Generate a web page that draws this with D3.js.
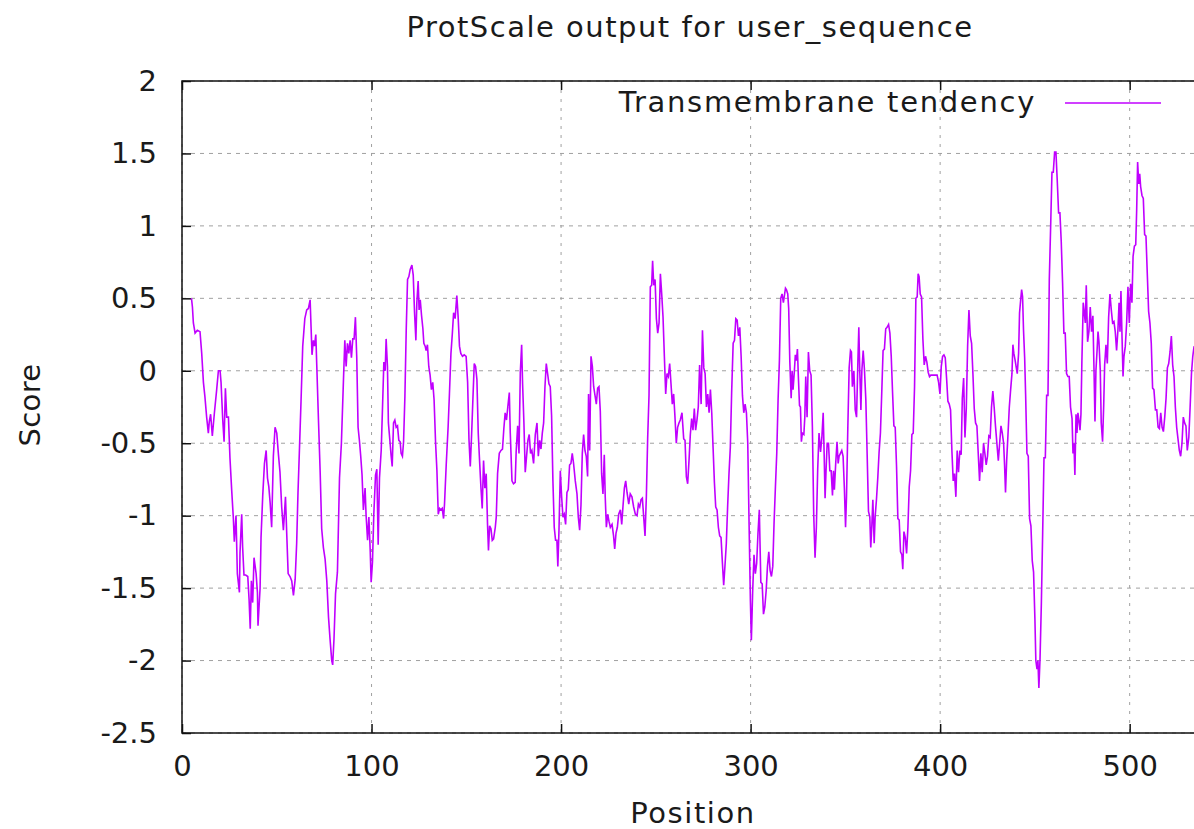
<!DOCTYPE html>
<html>
<head>
<meta charset="utf-8">
<script src="https://cdn.jsdelivr.net/npm/d3@7"></script>
<style>
  body { margin: 0; background: #fff; }
  text { font-family: "DejaVu Sans", sans-serif; fill: #1a1a1a; }
</style>
</head>
<body>
<div class="protscale"></div>
<script>
// values
const positions = [5,5.5,6,6.9,8.1,9.5,10.4,11.3,12.1,13,13.9,14.4,15.1,16,17.1,18.3,19.2,20.1,20.6,21.5,22.2,22.9,23.6,24.5,25.3,26.2,27.1,27.6,28.5,29.2,30.3,30.6,31.5,32,32.7,33.6,34.7,35.4,36,36.6,37.3,38,39.1,39.8,40.1,41.2,41.7,42.6,43.5,44.4,45.1,45.8,46.5,47.3,48.2,49.1,50,50.9,51.7,52.6,53.5,
  54.6,55.3,56,57,57.9,58.8,59.7,60.5,61.2,62,62.8,63.7,64.8,65.8,66.7,67.6,68.1,68.6,69.3,69.9,70.6,71.1,72,72.9,73.7,74.6,75.5,76.4,77.3,78.1,79,79.5,80.2,81,82,83.1,84.1,85.2,85.9,86.6,87.3,88,88.7,89.4,90.1,90.8,91.5,92.2,92.9,93.6,94.3,95,95.7,96.6,97.1,97.9,98.6,99.3,99.8,100.5,101.2,102.1,102.8,103.5,104.2,105.1,105.8,106.5,
  107.2,107.7,108.4,108.9,109.8,110.3,110.9,111.6,112.3,113,113.7,114.4,115.1,115.6,116.3,116.9,117.6,118.3,119,119.7,120.4,121.3,122,122.7,123.4,123.9,124.6,125.1,125.7,126.4,127.1,127.6,128.3,128.8,129.5,130.2,130.9,131.6,132.3,133,133.8,134.5,135.2,135.9,136.6,137.3,138,138.5,139.4,140.4,141.1,141.9,142.6,143.3,144.1,145,145.7,146.4,147.1,148,148.9,149.9,150.7,151.4,152.1,152.8,153.5,154.2,154.9,155.6,156.3,157,157.7,158.4,159.1,
  159.8,160.5,161.2,161.7,162.3,163,163.7,164.4,165.3,165.8,166.5,167.4,168.3,169.1,169.8,170.5,171.2,171.9,172.7,173.2,174.1,174.9,175.8,176.3,177.1,177.8,178.5,179.2,179.7,180.4,181.1,181.8,182.5,183.2,183.9,184.6,185.5,186.4,187.3,188,188.7,189.4,190.1,190.8,191.5,192.2,192.9,193.6,194.3,195,195.7,196.4,197.1,197.8,198.3,198.9,199.6,200.3,201,201.7,202.4,203.1,203.8,204.5,205.2,205.9,206.6,207.5,208.4,209.1,209.8,210.5,211.2,211.9,
  212.6,213.3,214,214.5,215.1,215.8,216.5,217.2,217.9,218.6,219.3,220,220.7,221.4,222.1,222.8,223.3,223.9,224.6,225.3,226,226.9,227.7,228.3,229,229.7,230.4,231.3,232,232.7,233.4,234.1,234.8,235.7,236.5,237.4,238.3,239.2,240.1,240.8,241.5,242.2,242.9,243.6,244.3,245,245.7,246.4,247.1,247.8,248.3,248.9,249.6,250.3,251,251.7,252.4,253.1,253.8,254.5,255.2,255.9,256.6,257.3,258,258.7,259.4,260.1,260.8,261.5,262.2,262.9,263.8,264.7,
  265.4,266.1,266.8,267.5,268.2,268.9,269.6,270.3,271,271.7,272.4,273.1,273.9,274.6,275.3,276,276.7,277.4,278.1,278.8,279.5,280.2,280.9,281.6,282.3,283,283.7,284.4,285.1,285.8,286.5,287.2,287.9,288.6,289.3,290,290.8,291.5,292.2,292.9,293.6,294.3,295,295.7,296.4,297.1,297.8,298.5,299.2,299.9,300.4,301.1,301.8,302.5,303.2,303.9,304.6,305.4,306.1,306.8,307.5,308.2,308.9,309.6,310.3,311,311.7,312.4,313.1,313.8,314.5,315.2,315.9,316.6,317.3,
  318.4,318.9,319.6,320.1,320.7,321.4,321.9,322.4,323.1,323.6,324.2,324.7,325.2,325.8,326.3,326.8,327.3,328.1,328.6,329.1,329.8,330.5,331.2,331.9,332.6,333.3,334,334.7,335.4,336.1,336.9,337.6,338.3,338.8,339.3,339.8,340.4,341.1,341.8,342.5,343.2,343.7,344.2,344.9,345.6,346.2,346.7,347.4,348.1,348.8,349.5,350.1,350.6,351.3,352,352.7,353.2,353.7,354.5,355.2,355.9,356.6,357.1,357.6,358.2,358.7,359.4,360.1,360.8,361.5,362.2,362.9,363.4,364,364.5,365.2,365.7,366.4,367.1,367.8,368.5,369.2,369.9,
  370.6,371.3,372,372.8,373.5,374.2,374.9,375.6,376.3,377,377.7,378.4,379.1,379.8,380.3,380.9,381.6,382.3,383,383.7,384.4,385.1,385.8,386.5,387.2,387.9,388.4,388.9,389.5,390.2,390.9,391.6,392.3,393,393.7,394.4,395.1,395.8,396.7,397.6,398.4,399.2,399.9,400.6,401.3,402,402.7,403.4,404.1,404.8,405.5,406.2,406.9,407.6,408.3,409,409.7,410.4,411.1,411.7,412.4,413.1,413.8,414.5,415.2,415.9,416.6,417.3,418,418.7,419.4,420.1,420.8,421.5,422.2,422.9,
  423.6,424.3,425,425.7,426.4,427.1,427.8,428.5,429.2,430,430.7,431.4,432.1,432.8,433.5,434,434.5,435.1,435.8,436.5,437.2,437.9,438.4,438.9,439.6,440.2,440.7,441.4,441.9,442.5,443,443.5,444,444.6,445.1,445.8,446.5,447.2,447.9,448.6,449.3,450,450.5,451.1,451.6,452.1,452.7,453.4,454.1,454.8,455.5,456.2,456.9,457.6,458.3,459,459.7,460.4,461.1,461.8,462.5,463.2,463.9,464.6,465.3,466,466.7,467.4,468.1,468.8,469.6,470.1,470.6,471.1,471.7,472.2,472.7,473.2,473.8,474.3,474.8,475.5,
  476.6,477.1,477.8,478.5,479.2,479.9,480.6,481.2,481.7,482.2,482.8,483.3,483.8,484.5,485,485.7,486.3,486.8,487.5,488.2,488.9,489.6,490.3,491,491.7,492.4,493.1,493.8,494.4,494.9,495.4,496,496.5,497,497.7,498.4,499.1,499.8,500.5,501.2,501.8,502.5,503.2,503.7,504.2,504.8,505.3,505.8,506.5,507.2,507.9,508.6,509.3,510,510.7,511.4,512.1,512.8,513.6,514.3,515,515.7,516.4,517.1,517.8,518.5,519.2,519.9,520.6,521.3,522,522.7,523.4,524.1,524.8,525.5,526.2,526.9,527.6,528.3,529,529.7,530.4,531.2,531.9,532.6,533.3,534]

const scores = [0.5,0.44,0.33,0.26,0.28,0.27,0.12,-0.08,-0.18,-0.32,-0.43,-0.35,-0.3,-0.45,-0.29,-0.13,0,0,-0.08,-0.34,-0.49,-0.12,-0.32,-0.32,-0.6,-0.82,-1.02,-1.18,-1,-1.4,-1.53,-1.26,-0.99,-1.22,-1.41,-1.41,-1.42,-1.58,-1.78,-1.45,-1.6,-1.29,-1.4,-1.53,-1.76,-1.5,-1.15,-0.86,-0.64,-0.55,-0.74,-0.8,-0.91,-1.08,-0.59,-0.39,-0.43,-0.58,-0.7,-0.94,-1.1,
  -0.87,-1.14,-1.4,-1.42,-1.45,-1.55,-1.44,-1.19,-0.84,-0.53,-0.21,0.17,0.36,0.42,0.43,0.49,0.3,0.11,0.21,0.17,0.25,0.04,-0.34,-0.7,-1.09,-1.22,-1.3,-1.45,-1.7,-1.85,-2,-2.03,-1.85,-1.54,-1.39,-0.74,-0.5,-0.06,0.21,0.03,0.19,0.12,0.21,0.09,0.22,0.22,0.37,0.09,-0.39,-0.48,-0.59,-0.72,-0.96,-0.81,-0.99,-1.17,-1.01,-1.24,-1.46,-1.32,-0.99,-0.72,-0.68,-1.2,-0.74,-0.55,-0.25,0.06,
  0,0.22,0.03,-0.36,-0.5,-0.58,-0.66,-0.36,-0.34,-0.39,-0.38,-0.48,-0.49,-0.57,-0.59,-0.49,-0.18,0.28,0.63,0.65,0.7,0.73,0.66,0.4,0.21,0.47,0.62,0.42,0.49,0.38,0.29,0.19,0.17,0.14,0.18,0.03,-0.03,-0.13,-0.08,-0.2,-0.5,-0.69,-0.99,-0.95,-0.96,-0.95,-1.02,-0.92,-0.65,-0.39,-0.16,0.12,0.25,0.4,0.36,0.52,0.37,0.17,0.12,0.1,0.11,0.1,-0.08,-0.47,-0.66,-0.44,-0.19,0.05,0.03,-0.06,-0.43,-0.62,-0.8,-0.95,-0.62,
  -0.81,-0.71,-1.06,-1.24,-1.07,-1.09,-1.17,-1.16,-1.08,-1.01,-0.71,-0.57,-0.55,-0.54,-0.4,-0.29,-0.34,-0.25,-0.15,-0.43,-0.76,-0.78,-0.77,-0.56,-0.38,-0.57,-0.01,0.18,-0.09,-0.36,-0.7,-0.59,-0.48,-0.44,-0.57,-0.55,-0.64,-0.44,-0.36,-0.59,-0.48,-0.54,-0.43,-0.36,-0.11,0.05,-0.02,-0.09,-0.11,-0.31,-0.76,-1.08,-1.17,-1.17,-1.35,-1.1,-0.69,-0.87,-1.01,-0.99,-1.06,-0.84,-0.82,-0.65,-0.64,-0.57,-0.64,-0.76,-0.85,-1.01,-1.1,-0.93,-0.57,-0.44,
  -0.55,-0.59,-0.73,-0.16,-0.55,0.1,0.03,-0.11,-0.17,-0.23,-0.12,-0.11,-0.28,-0.71,-0.85,-0.58,-0.87,-1.08,-0.99,-1.04,-1.08,-1.06,-1.14,-1.23,-1.12,-1.08,-0.99,-0.96,-1.06,-0.93,-0.81,-0.76,-0.84,-0.92,-0.85,-0.87,-0.94,-0.99,-1,-0.92,-0.94,-0.89,-0.88,-1.01,-1.14,-0.87,-0.46,-0.17,0.58,0.59,0.76,0.59,0.63,0.36,0.26,0.33,0.67,0.53,0.37,0.1,-0.16,-0.02,-0.04,0.05,-0.09,-0.23,-0.16,-0.32,-0.5,-0.39,-0.36,-0.34,-0.29,-0.47,
  -0.48,-0.73,-0.78,-0.62,-0.44,-0.33,-0.41,-0.26,-0.41,-0.34,-0.25,0.04,-0.23,0.28,0.02,-0.02,-0.25,-0.16,-0.29,-0.13,-0.29,-0.53,-0.77,-0.94,-0.96,-1.08,-1.14,-1.15,-1.32,-1.48,-1.34,-1.19,-0.93,-0.71,-0.53,-0.15,0.19,0.21,0.36,0.35,0.24,0.3,0.1,-0.17,-0.29,-0.23,-0.29,-0.5,-1.06,-1.59,-1.86,-1.52,-1.27,-1.4,-1.33,-1.12,-0.96,-1.46,-1.47,-1.68,-1.63,-1.52,-1.35,-1.25,-1.38,-1.42,-1.35,-1.04,-0.8,-0.57,-0.2,0.07,0.5,0.53,0.47,
  0.57,0.56,0.53,0.43,0.06,-0.19,0,-0.13,0,0.11,0.07,0.15,-0.04,-0.24,-0.25,-0.49,-0.43,-0.44,-0.32,-0.04,-0.32,0.13,0,-0.03,-0.39,-0.99,-1.29,-1.08,-0.68,-0.43,-0.56,-0.46,-0.29,-0.57,-0.88,-0.69,-0.5,-0.5,-0.69,-0.69,-0.86,-0.69,-0.82,-0.64,-0.49,-0.64,-0.59,-0.57,-0.55,-0.59,-0.82,-1.08,-0.87,-0.39,0.02,0.14,0.13,-0.11,0,-0.27,-0.32,0.06,0.3,0,-0.27,0,0.14,0,-0.2,-0.58,-0.97,-1.01,-1.22,-1.06,-0.89,-1.19,-1.01,-0.89,-0.74,-0.56,-0.43,-0.15,0.14,
  0.15,0.29,0.3,0.32,0.26,0.1,-0.15,-0.38,-0.39,-0.66,-1.02,-1.03,-1.25,-1.27,-1.37,-1.11,-1.15,-1.26,-1.08,-0.8,-0.69,-0.44,-0.43,-0.11,0.5,0.51,0.67,0.65,0.53,0.51,0.22,0.04,0.1,0.06,-0.01,-0.04,-0.03,-0.03,-0.03,-0.03,-0.03,-0.08,-0.16,0.03,0.1,0.11,0.09,-0.05,-0.21,-0.23,-0.27,-0.55,-0.76,-0.71,-0.87,-0.55,-0.7,-0.55,-0.58,-0.19,-0.05,-0.46,-0.26,0.17,0.42,0.24,0.19,-0.02,-0.26,-0.36,-0.38,-0.57,-0.76,-0.57,-0.7,-0.5,
  -0.57,-0.65,-0.59,-0.45,-0.46,-0.25,-0.14,-0.25,-0.38,-0.51,-0.62,-0.5,-0.38,-0.43,-0.5,-0.65,-0.84,-0.62,-0.44,-0.25,-0.13,-0.02,0.18,0.12,0.07,0.02,-0.02,0.12,0.4,0.49,0.56,0.51,0.28,0.09,-0.16,-0.57,-0.59,-1.02,-1.07,-1.31,-1.39,-1.71,-2,-2.06,-2,-2.19,-1.99,-1.61,-1.12,-0.6,-0.6,-0.17,-0.17,0.63,0.99,1.37,1.37,1.51,1.51,1.31,1.09,1.09,0.89,0.61,0.26,0.26,-0.02,-0.04,-0.04,-0.25,-0.33,-0.57,-0.5,-0.72,-0.3,-0.43,-0.29,-0.34,-0.41,-0.3,0.07,0.47,
  0.33,0.59,0.2,0.27,0.44,0.27,0.38,0,-0.35,0,0.14,0.27,0.2,0,-0.36,-0.49,-0.24,0.04,0.18,0.05,0.37,0.53,0.42,0.33,0.34,0.27,0.14,0.28,0.47,0.27,0.55,0.22,-0.04,0.1,0.17,0.33,0.58,0.33,0.6,0.47,0.79,0.86,0.87,1.11,1.44,1.29,1.36,1.27,1.21,1.19,0.94,0.93,0.67,0.41,0.33,0.19,-0.12,-0.13,-0.27,-0.27,-0.39,-0.4,-0.29,-0.39,-0.42,-0.32,-0.19,0.02,0.05,0.13,0.24,0.04,-0.04,-0.25,-0.39,-0.47,-0.55,-0.59,-0.5,-0.32,-0.36,-0.38,-0.55,-0.46,-0.25,-0.02,0.1,0.17]

const xTicks = [0, 100, 200, 300, 400, 500]
const yTicks = [-2.5, -2, -1.5, -1, -0.5, 0, 0.5, 1, 1.5, 2]
const chartTitle = "ProtScale output for user_sequence"
const seriesName = "Transmembrane tendency"

// plot frame (right edge runs just past the window, like the original)
const margin = { top: 81, right: -2, bottom: 96, left: 182 },
  width = 1194 - margin.left - margin.right,
  height = 829 - margin.top - margin.bottom;

const svg = d3.select(".protscale")
  .append("svg")
  .attr("width", 1194)
  .attr("height", 829)

const g = svg.append("g")
  .attr("transform", `translate(${margin.left}, ${margin.top})`)

const x = d3.scaleLinear().domain([0, 535]).range([0, width])
const y = d3.scaleLinear().domain([-2.5, 2]).range([height, 0])

// grid
g.selectAll(".hgrid")
  .data(yTicks)
  .join("line")
  .attr("x1", 0).attr("x2", width)
  .attr("y1", d => y(d)).attr("y2", d => y(d))
  .attr("stroke", "#a0a0a0")
  .attr("stroke-dasharray", "4,5")

g.selectAll(".vgrid")
  .data(xTicks)
  .join("line")
  .attr("x1", d => x(d)).attr("x2", d => x(d))
  .attr("y1", 0).attr("y2", height)
  .attr("stroke", "#a0a0a0")
  .attr("stroke-dasharray", "3,6")

// axes, ticks drawn inwards like gnuplot
g.append("g")
  .attr("transform", `translate(0, ${height})`)
  .call(d3.axisBottom(x).tickValues(xTicks).tickSize(-9).tickPadding(22).tickFormat(d3.format("d")))
  .call(a => a.select(".domain").remove())
g.append("g")
  .call(d3.axisTop(x).tickValues(xTicks).tickSize(-9).tickFormat(""))
  .call(a => a.select(".domain").remove())
g.append("g")
  .call(d3.axisLeft(y).tickValues(yTicks).tickSize(-9).tickPadding(25).tickFormat(d => String(d)))
  .call(a => a.select(".domain").remove())

g.selectAll(".tick line").attr("stroke", "#111").attr("stroke-width", 1.5)
g.selectAll(".tick text")
  .style("font-size", "29px")
  .style("font-family", "DejaVu Sans")
  .attr("fill", "#1a1a1a")

// border
g.append("rect")
  .attr("width", width).attr("height", height)
  .attr("fill", "none")
  .attr("stroke", "#111")
  .attr("stroke-width", 1.5)

// series
g.append("clipPath").attr("id", "plotclip")
  .append("rect").attr("width", width).attr("height", height)

const pts = positions.map((p, i) => [p, scores[i]])
g.append("path")
  .datum(pts)
  .attr("clip-path", "url(#plotclip)")
  .attr("fill", "none")
  .attr("stroke", "#c000ff")
  .attr("stroke-width", 1.6)
  .attr("d", d3.line().x(d => x(d[0])).y(d => y(d[1])))

// legend
svg.append("text")
  .attr("x", 1036).attr("y", 112)
  .attr("text-anchor", "end")
  .style("font-size", "29px")
  .style("letter-spacing", "1.7px")
  .text(seriesName)
svg.append("line")
  .attr("x1", 1065).attr("x2", 1161)
  .attr("y1", 103).attr("y2", 103)
  .attr("stroke", "#c000ff")
  .attr("stroke-width", 1.6)

// titles
svg.append("text")
  .attr("x", 690).attr("y", 37)
  .attr("text-anchor", "middle")
  .style("font-size", "29px")
  .style("letter-spacing", "1.5px")
  .text(chartTitle)
svg.append("text")
  .attr("x", 693).attr("y", 823)
  .attr("text-anchor", "middle")
  .style("font-size", "29px")
  .style("letter-spacing", "1.6px")
  .text("Position")
svg.append("text")
  .attr("transform", "translate(40, 405) rotate(-90)")
  .attr("text-anchor", "middle")
  .style("font-size", "29px")
  .style("letter-spacing", "0.4px")
  .text("Score")
</script>
</body>
</html>
